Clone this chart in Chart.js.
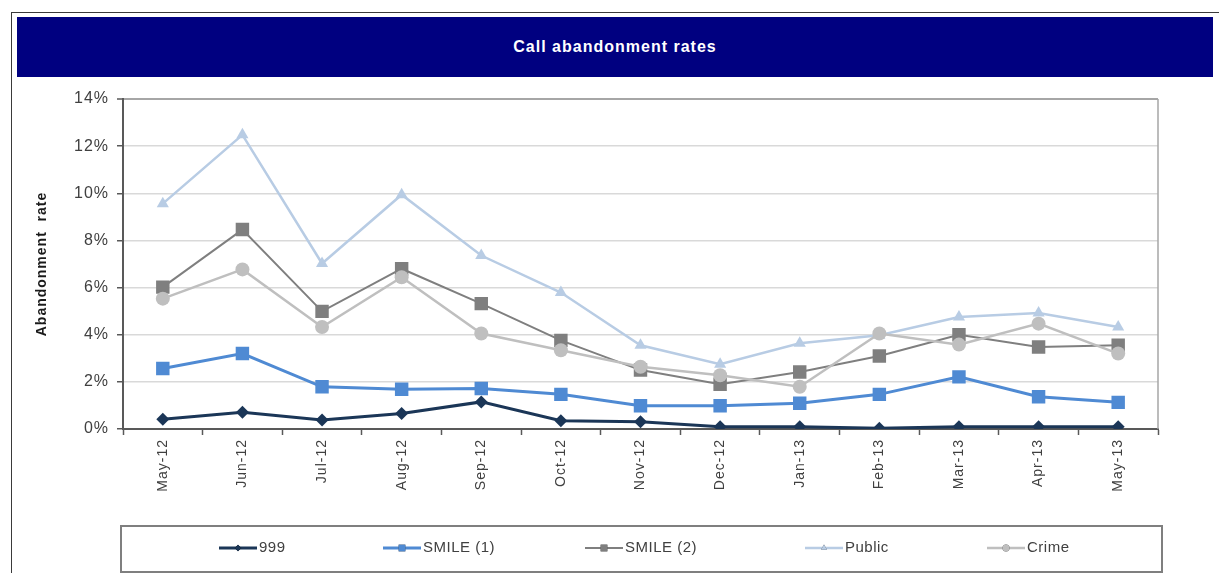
<!DOCTYPE html>
<html>
<head>
<meta charset="utf-8">
<script src="https://cdn.jsdelivr.net/npm/chart.js@4"></script>
<style>
  html, body { margin: 0; padding: 0; background: #fff; }
  body { width: 1219px; height: 573px; position: relative; overflow: hidden; font-family: "Liberation Sans", Arial, sans-serif; }
  #frame { position: absolute; left: 11px; top: 12px; width: 1220px; height: 600px; border-left: 1px solid #3a3a3a; border-top: 1px solid #3a3a3a; }
  #band { position: absolute; left: 17px; top: 17px; width: 1196px; height: 60px; background: #000080; color: #fff;
          font: bold 16px "Liberation Sans", Arial, sans-serif; letter-spacing: 1px; display: flex; align-items: center; justify-content: center; }
  #band span { position: relative; left: 0px; top: 0px; }
  canvas { position: absolute; left: 0; top: 0; }
</style>
</head>
<body>
<div id="frame"></div>
<div id="band"><span>Call abandonment rates</span></div>
<canvas id="c" width="1219" height="573"></canvas>
<script>
const categories = ["May-12","Jun-12","Jul-12","Aug-12","Sep-12","Oct-12","Nov-12","Dec-12","Jan-13","Feb-13","Mar-13","Apr-13","May-13"];
const s999     = [0.41, 0.71, 0.38, 0.66, 1.15, 0.35, 0.31, 0.10, 0.10, 0.03, 0.10, 0.10, 0.10];
const smile1   = [2.57, 3.20, 1.79, 1.69, 1.72, 1.47, 0.99, 0.99, 1.09, 1.47, 2.21, 1.37, 1.13];
const smile2   = [6.02, 8.46, 4.99, 6.80, 5.32, 3.76, 2.50, 1.90, 2.42, 3.10, 4.00, 3.48, 3.55];
const publicS  = [9.56, 12.48, 7.02, 9.94, 7.36, 5.79, 3.55, 2.75, 3.64, 3.98, 4.75, 4.92, 4.33];
const crime    = [5.53, 6.77, 4.33, 6.44, 4.05, 3.34, 2.64, 2.28, 1.79, 4.05, 3.58, 4.47, 3.20];
const seriesNames = ["999", "SMILE (1)", "SMILE (2)", "Public", "Crime"];
const yTicks = [0, 2, 4, 6, 8, 10, 12, 14];

const styles = [
  { color: '#1b3657', point: 'rectRot', r: 6.5, w: 3 },
  { color: '#4f8ad3', point: 'rect', r: 9.5, w: 3 },
  { color: '#7f7f7f', point: 'rect', r: 9.5, w: 2 },
  { color: '#b8cce4', point: 'triangle', r: 7, w: 2.5 },
  { color: '#bfbfbf', point: 'circle', r: 7, w: 2.5 }
];
const seriesData = [s999, smile1, smile2, publicS, crime];

const datasets = seriesData.map((d, i) => ({
  label: seriesNames[i],
  data: d,
  borderColor: styles[i].color,
  backgroundColor: styles[i].color,
  pointBackgroundColor: styles[i].color,
  pointBorderColor: styles[i].color,
  pointBorderWidth: 0,
  pointStyle: styles[i].point,
  pointRadius: styles[i].r,
  borderWidth: styles[i].w,
  tension: 0,
  order: 5 - i
}));

const decor = {
  id: 'decor',
  beforeDraw(chart) {
    chart.ctx.letterSpacing = '1px';
  },
  afterDraw(chart) {
    const ctx = chart.ctx;
    const a = chart.chartArea;
    ctx.save();
    // plot area right border
    ctx.strokeStyle = '#a6a6a6';
    ctx.lineWidth = 1.5;
    ctx.beginPath();
    ctx.moveTo(a.right, a.top);
    ctx.lineTo(a.right, a.bottom);
    ctx.stroke();
    // legend box
    ctx.strokeStyle = '#7f7f7f';
    ctx.lineWidth = 2;
    ctx.strokeRect(121, 526, 1041, 46);
    const xs = [219, 383, 585, 805, 987];
    const yc = 548;
    ctx.font = '15px "Liberation Sans", Arial, sans-serif';
    ctx.letterSpacing = '0.5px';
    ctx.textBaseline = 'middle';
    ctx.textAlign = 'left';
    chart.data.datasets.forEach((ds, i) => {
      const x0 = xs[i], x1 = x0 + 38;
      ctx.strokeStyle = ds.borderColor;
      ctx.lineWidth = ds.borderWidth;
      ctx.beginPath();
      ctx.moveTo(x0, yc); ctx.lineTo(x1, yc); ctx.stroke();
      Chart.helpers.drawPoint(ctx, { pointStyle: ds.pointStyle, radius: ds.pointRadius * 0.5, borderWidth: 0 }, (x0 + x1) / 2, yc);
      ctx.fillStyle = ds.borderColor;
      ctx.beginPath();
      Chart.helpers.drawPoint(ctx, { pointStyle: ds.pointStyle, radius: ds.pointRadius * 0.5, borderWidth: 0 }, (x0 + x1) / 2, yc);
      ctx.fillStyle = '#404040';
      ctx.fillText(ds.label, x1 + 2, yc);
    });
    ctx.restore();
    ctx.letterSpacing = '0px';
  }
};

new Chart(document.getElementById('c'), {
  type: 'line',
  data: { labels: categories, datasets },
  plugins: [decor],
  options: {
    responsive: false,
    animation: false,
    events: [],
    layout: { padding: { left: 0, right: 61, top: 99, bottom: 0 } },
    plugins: { legend: { display: false }, tooltip: { enabled: false }, title: { display: false } },
    scales: {
      x: {
        offset: true,
        grid: { display: true, drawOnChartArea: false, offset: true, tickLength: 6, tickColor: '#595959', tickWidth: 1.5 },
        border: { display: true, color: '#595959', width: 2 },
        ticks: { minRotation: 90, maxRotation: 90, autoSkip: false, padding: 4, color: '#404040',
                 font: { family: '"Liberation Sans", Arial, sans-serif', size: 14 } },
        afterFit(scale) { scale.height = 144; }
      },
      y: {
        min: 0, max: 14,
        afterBuildTicks(scale) { scale.ticks = yTicks.map(v => ({ value: v })); },
        grid: {
          color: ctx => ctx.tick && ctx.tick.value === 14 ? '#a6a6a6' : '#d9d9d9',
          lineWidth: ctx => ctx.tick && ctx.tick.value === 14 ? 2 : 1.5,
          tickLength: 6, tickColor: '#595959', tickWidth: 1.5
        },
        border: { display: true, color: '#595959', width: 2 },
        ticks: { callback: v => v + '%', padding: 8, color: '#404040',
                 font: { family: '"Liberation Sans", Arial, sans-serif', size: 16 } },
        title: { display: true, text: 'Abandonment  rate', color: '#1a1a1a', padding: { top: 34, bottom: 0 },
                 font: { family: '"Liberation Sans", Arial, sans-serif', size: 14, weight: 'bold' } },
        afterFit(scale) { scale.width = 123; }
      }
    }
  }
});
</script>
</body>
</html>
